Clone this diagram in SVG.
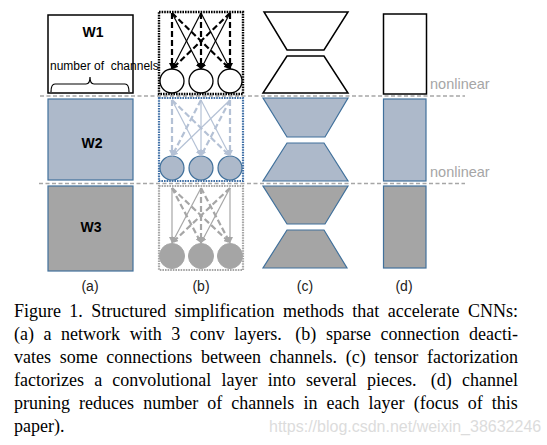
<svg xmlns="http://www.w3.org/2000/svg" width="547" height="445" viewBox="0 0 547 445">
<style>
.sep{stroke:#a6a6a6;stroke-width:1.6;stroke-dasharray:4 2.5;fill:none}
.blk{fill:#fff;stroke:#000;stroke-width:1.5}
.blu{fill:#adb9ca;stroke:#41719c;stroke-width:1.2}
.gry{fill:#a5a5a5;stroke:#41719c;stroke-width:1.2}
.lbl{font-family:"Liberation Sans",Arial,sans-serif;font-weight:bold;font-size:14px;fill:#000;text-anchor:middle}
.sub{font-family:"Liberation Sans",Arial,sans-serif;font-size:14px;fill:#222;text-anchor:middle}
.nl{font-family:"Liberation Sans",Arial,sans-serif;font-size:14.5px;fill:#a6a6a6}
.cap{font-family:"Liberation Serif","Times New Roman",serif;font-size:18px;fill:#000}
.wm{font-family:"Liberation Sans",Arial,sans-serif;font-size:16px;fill:#dcdcdc}
.k{stroke:#000;fill:none}
.kb{stroke:#b4c1d5;fill:none}
.kg{stroke:#a6a6a6;fill:none}
.s{stroke-width:1.2}
.d{stroke-width:2.2;stroke-dasharray:6 3}
</style>
<defs>
<marker id="ak" viewBox="0 0 6 6" refX="6" refY="3" markerWidth="6" markerHeight="6" markerUnits="userSpaceOnUse" orient="auto"><path d="M0,0 L6,3 L0,6 z" fill="#000"/></marker>
<marker id="ab" viewBox="0 0 6 6" refX="6" refY="3" markerWidth="6" markerHeight="6" markerUnits="userSpaceOnUse" orient="auto"><path d="M0,0 L6,3 L0,6 z" fill="#b4c1d5"/></marker>
<marker id="ag" viewBox="0 0 6 6" refX="6" refY="3" markerWidth="6" markerHeight="6" markerUnits="userSpaceOnUse" orient="auto"><path d="M0,0 L6,3 L0,6 z" fill="#a6a6a6"/></marker>
</defs>
<rect width="547" height="445" fill="#fff"/>

<g id="separators">
<line class="sep" x1="40" y1="96" x2="465" y2="96"/>
<line class="sep" x1="39" y1="183.5" x2="465" y2="183.5"/>
</g>

<g id="col-a">
<g id="a-w1">
<rect class="blk" x="48" y="15" width="85" height="78"/>
<text class="lbl" x="93" y="37">W1</text>
<text x="50" y="70" style="font-family:'Liberation Sans',Arial,sans-serif;font-size:12px;fill:#000">number of&#160; channels</text>
<path d="M51,92 Q51,84 55,84 L86,84 Q90,84 90,77 Q90,84 94,84 L125,84 Q129,84 129,92" fill="none" stroke="#000" stroke-width="1.2"/>
</g>
<g id="a-w2">
<rect class="blu" x="48" y="99" width="85" height="81"/>
<text class="lbl" x="92" y="148">W2</text>
</g>
<g id="a-w3">
<rect class="gry" x="48" y="186" width="85" height="85"/>
<text class="lbl" x="91" y="232">W3</text>
</g>
<text class="sub" x="90" y="291">(a)</text>
</g>

<g id="col-b">
<g id="b-layer1">
<rect x="159" y="12" width="84" height="82" fill="none" stroke="#000" stroke-width="2.4" stroke-dasharray="1.6 1"/>
<circle cx="172" cy="81" r="12" fill="#fff" stroke="#000" stroke-width="1.3"/>
<circle cx="201" cy="81" r="12" fill="#fff" stroke="#000" stroke-width="1.3"/>
<circle cx="230" cy="81" r="12" fill="#fff" stroke="#000" stroke-width="1.3"/>
</g>
<g id="b-layer2">
<rect x="159" y="98" width="84" height="83" fill="none" stroke="#3f6fa6" stroke-width="2.2" stroke-dasharray="1.6 1"/>
<circle cx="172" cy="168" r="12" class="blu"/>
<circle cx="201" cy="168" r="12" class="blu"/>
<circle cx="230" cy="168" r="12" class="blu"/>
</g>
<g id="b-layer3">
<rect x="159" y="186" width="84" height="84" fill="none" stroke="#a6a6a6" stroke-width="2.2" stroke-dasharray="1.6 1"/>
<circle cx="172" cy="256" r="12.5" fill="#a5a5a5" stroke="#a5a5a5"/>
<circle cx="201" cy="256" r="12.5" fill="#a5a5a5" stroke="#a5a5a5"/>
<circle cx="230" cy="256" r="12.5" fill="#a5a5a5" stroke="#a5a5a5"/>
</g>
<text class="sub" x="201" y="291">(b)</text>
</g>

<g id="connectors">
<!-- layer 1 (black) -->
<line class="k d" x1="172" y1="13" x2="172" y2="69" marker-end="url(#ak)"/>
<line class="k d" x1="201" y1="13" x2="201" y2="69" marker-end="url(#ak)"/>
<line class="k d" x1="230" y1="13" x2="230" y2="69" marker-end="url(#ak)"/>
<line class="k d" x1="172" y1="13" x2="230" y2="69" marker-end="url(#ak)"/>
<line class="k d" x1="230" y1="13" x2="172" y2="69" marker-end="url(#ak)"/>
<line class="k s" x1="172" y1="13" x2="201" y2="69" marker-end="url(#ak)"/>
<line class="k s" x1="201" y1="13" x2="172" y2="69" marker-end="url(#ak)"/>
<line class="k s" x1="201" y1="13" x2="230" y2="69" marker-end="url(#ak)"/>
<line class="k s" x1="230" y1="13" x2="201" y2="69" marker-end="url(#ak)"/>
<!-- layer 2 (blue-grey) -->
<line class="kb d" x1="172" y1="100" x2="172" y2="156" marker-end="url(#ab)"/>
<line class="kb s" x1="201" y1="100" x2="201" y2="156" marker-end="url(#ab)"/>
<line class="kb d" x1="230" y1="100" x2="230" y2="156" marker-end="url(#ab)"/>
<line class="kb d" x1="172" y1="100" x2="230" y2="156" marker-end="url(#ab)"/>
<line class="kb s" x1="230" y1="100" x2="172" y2="156" marker-end="url(#ab)"/>
<line class="kb s" x1="172" y1="100" x2="201" y2="156" marker-end="url(#ab)"/>
<line class="kb d" x1="201" y1="100" x2="172" y2="156" marker-end="url(#ab)"/>
<line class="kb s" x1="201" y1="100" x2="230" y2="156" marker-end="url(#ab)"/>
<line class="kb d" x1="230" y1="100" x2="201" y2="156" marker-end="url(#ab)"/>
<!-- layer 3 (grey) -->
<line class="kg s" x1="172" y1="188" x2="172" y2="243" marker-end="url(#ag)"/>
<line class="kg d" x1="201" y1="188" x2="201" y2="243" marker-end="url(#ag)"/>
<line class="kg s" x1="230" y1="188" x2="230" y2="243" marker-end="url(#ag)"/>
<line class="kg d" x1="172" y1="188" x2="230" y2="243" marker-end="url(#ag)"/>
<line class="kg d" x1="230" y1="188" x2="172" y2="243" marker-end="url(#ag)"/>
<line class="kg d" x1="172" y1="188" x2="201" y2="243" marker-end="url(#ag)"/>
<line class="kg s" x1="201" y1="188" x2="172" y2="243" marker-end="url(#ag)"/>
<line class="kg d" x1="201" y1="188" x2="230" y2="243" marker-end="url(#ag)"/>
<line class="kg s" x1="230" y1="188" x2="201" y2="243" marker-end="url(#ag)"/>
</g>

<g id="col-c">
<polygon id="c1" class="blk" points="264,12 348,12 324,50 287,50"/>
<polygon id="c2" class="blk" points="287,56 324,56 348,93 263,93"/>
<polygon id="c3" class="blu" points="263,98 348,98 325,137 287,137"/>
<polygon id="c4" class="blu" points="287,143 324,143 348,181 263,181"/>
<polygon id="c5" class="gry" points="263,186 348,186 325,224 287,224"/>
<polygon id="c6" class="gry" points="287,230 324,230 347,268 263,268"/>
<text class="sub" x="305" y="291">(c)</text>
</g>

<g id="col-d">
<rect id="d1" class="blk" x="383.5" y="14" width="43" height="80"/>
<rect id="d2" class="blu" x="383.5" y="99" width="42.5" height="82"/>
<rect id="d3" class="gry" x="383.5" y="186" width="42.5" height="82"/>
<text class="sub" x="404" y="291">(d)</text>
<text class="nl" x="430" y="89">nonlinear</text>
<text class="nl" x="430" y="176.5">nonlinear</text>
</g>

<g id="caption">
<text class="cap" x="14" y="317" word-spacing="3.87">Figure 1. Structured simplification methods that accelerate CNNs:</text>
<text class="cap" x="14" y="340" word-spacing="5.06">(a) a network with 3 conv layers. <tspan dx="4">(b) sparse connection deacti-</tspan></text>
<text class="cap" x="14" y="363" word-spacing="4.16">vates some connections between channels. (c) tensor factorization</text>
<text class="cap" x="14" y="386" word-spacing="5.7">factorizes a convolutional layer into several pieces. <tspan dx="4">(d) channel</tspan></text>
<text class="cap" x="14" y="409" word-spacing="4.6">pruning reduces number of channels in each layer (focus of this</text>
<text class="cap" x="14" y="432">paper).</text>
<text class="wm" x="269" y="432">https://blog.csdn.net/weixin_38632246</text>
</g>
</svg>
